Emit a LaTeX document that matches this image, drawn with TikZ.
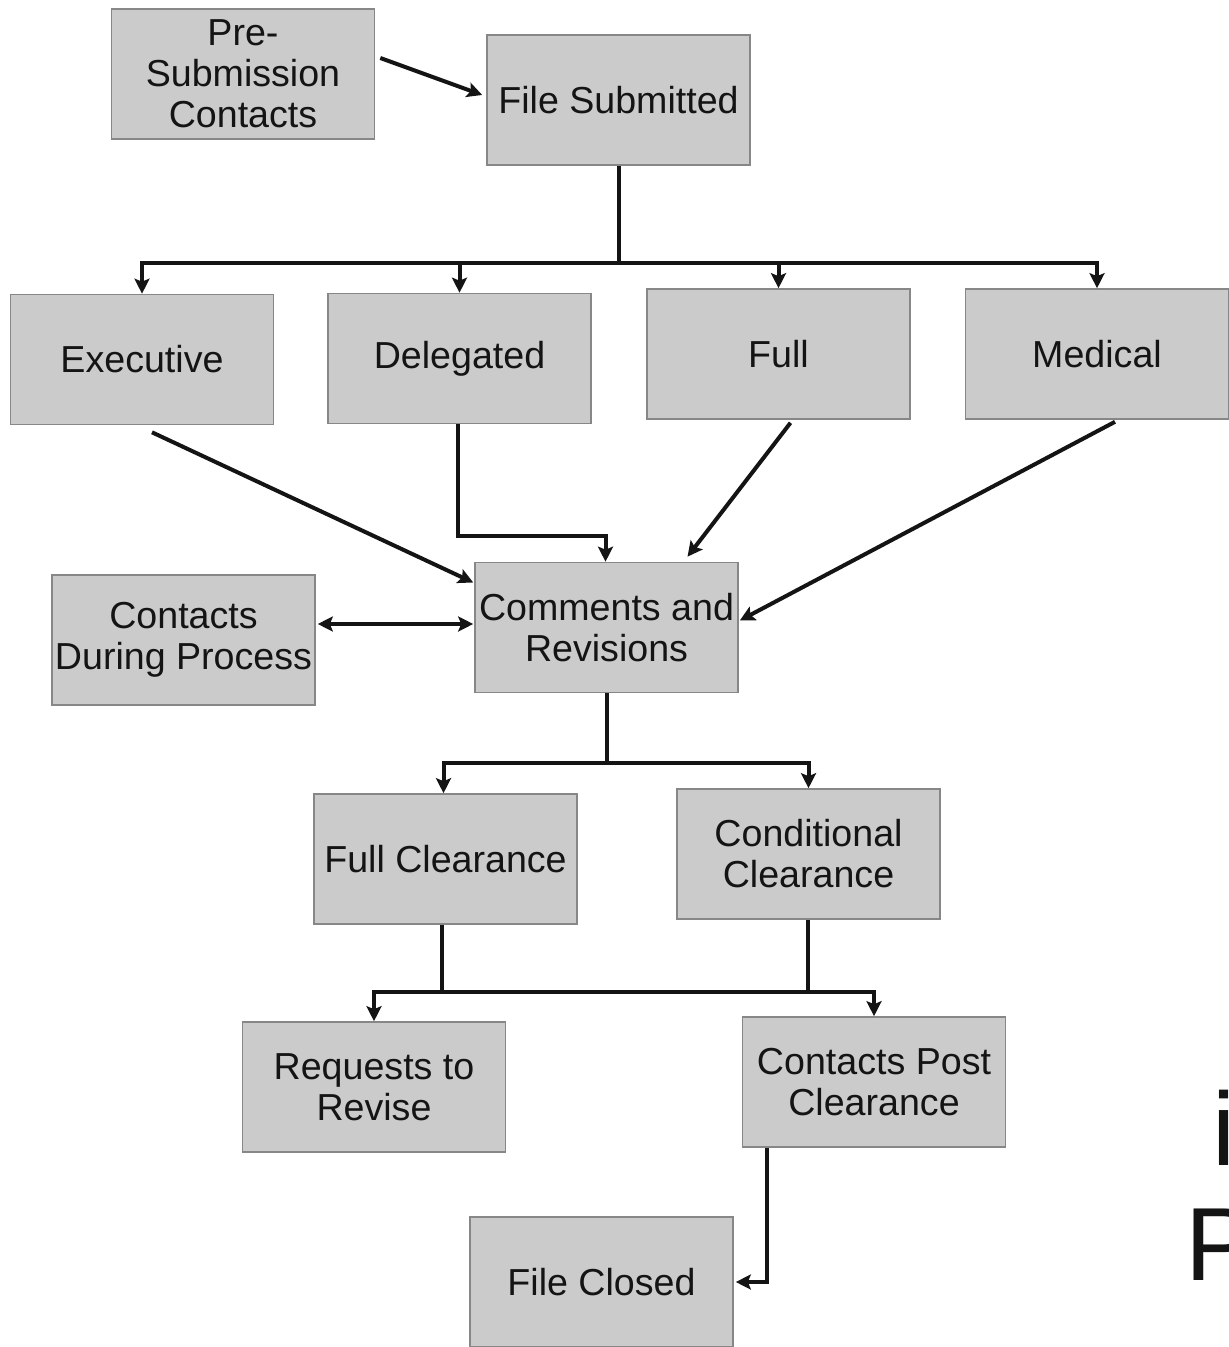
\documentclass[tikz,border=0pt]{standalone}
\usepackage{fontspec}
\setmainfont{Liberation Sans}
\usetikzlibrary{arrows.meta}
\definecolor{boxfill}{RGB}{203,203,203}
\definecolor{boxline}{RGB}{135,135,135}
\definecolor{ink}{RGB}{20,20,20}
\tikzset{
  box/.style={draw=boxline, line width=0.8pt, fill=boxfill, inner sep=0pt,
    minimum width=131.5pt, minimum height=65pt, align=center, text=ink,
    font=\fontsize{18.8}{20.5}\selectfont},
  conn/.style={draw=ink, line width=2pt},
  tipA/.tip={Stealth[length=7.5pt,width=7.5pt,inset=1.5pt]},
  arr/.style={conn, -tipA},
  dblarr/.style={conn, tipA-tipA},
  edgetxt/.style={inner sep=0pt, anchor=base west, text=ink, font=\fontsize{52}{60}\selectfont}
}
\begin{document}
\begin{tikzpicture}[x=0.5pt,y=-0.5pt]
\useasboundingbox (0,0) rectangle (1229,1347);
\clip (0,0) rectangle (1229,1347);
\fill[white] (0,0) rectangle (1229,1347);

% boxes
\node[box] (pre)  at (243,74)     {Pre-\\Submission\\Contacts};
\node[box] (sub)  at (618.5,100)  {File Submitted};
\node[box] (exec) at (142,359.5)  {Executive};
\node[box] (dele) at (459.5,358.5){Delegated};
\node[box] (full) at (778.5,354)  {Full};
\node[box] (med)  at (1097,354)   {Medical};
\node[box] (comm) at (606.5,627.5){Comments and\\Revisions};
\node[box] (cdp)  at (183.5,640)  {Contacts\\During Process};
\node[box] (fc)   at (445.5,859)  {Full Clearance};
\node[box] (cc)   at (808.5,854)  {Conditional\\Clearance};
\node[box] (req)  at (374,1087)   {Requests to\\Revise};
\node[box] (cpc)  at (874,1082)   {Contacts Post\\Clearance};
\node[box] (fcl)  at (601.5,1282) {File Closed};

% partial text at right edge (cut off in the reference too)
\node[edgetxt] (ei) at (1212,1165) {i};
\node[edgetxt] (ep) at (1185,1280) {P};

% connectors
\draw[arr] ([shift={(5,-16)}]pre.east) -- ([shift={(-4,-5)}]sub.west);

\coordinate (j1) at (618.5,263);
\draw[conn] (sub.south) -- (j1);
\draw[arr] (j1) -| (exec.north);
\draw[arr] (j1) -| (dele.north);
\draw[arr] (j1) -| (full.north);
\draw[arr] (j1) -| (med.north);

\draw[arr] ([shift={(10,7)}]exec.south) -- ([shift={(-1,-45)}]comm.west);
\draw[arr] ([shift={(-2,0)}]dele.south) -- ++(0,112) -| ([shift={(-1,0)}]comm.north);
\draw[arr] ([shift={(12,3)}]full.south) -- ([shift={(81,-5)}]comm.north);
\draw[arr] ([shift={(18,2)}]med.south) -- ([shift={(1,-7)}]comm.east);
\draw[dblarr] ([shift={(2,-16)}]cdp.east) -- ([shift={(-1,-3.5)}]comm.west);

\coordinate (j2) at (606.5,763);
\draw[conn] (comm.south) -- (j2);
\draw[arr] (j2) -| ([shift={(-2,0)}]fc.north);
\draw[arr] (j2) -| (cc.north);

\coordinate (j3) at (441,992);
\draw[conn] ([shift={(-4,0)}]fc.south) -- ([shift={(-4,0)}]fc.south |- j3) -- ([shift={(-1,0)}]cc.south |- j3) -- ([shift={(-1,0)}]cc.south);
\draw[arr] ([shift={(-4,0)}]fc.south |- j3) -| (req.north);
\draw[arr] ([shift={(-1,0)}]cc.south |- j3) -| (cpc.north);

\draw[arr] ([shift={(-107,0)}]cpc.south) |- ([shift={(2,0)}]fcl.east);
\end{tikzpicture}
\end{document}
